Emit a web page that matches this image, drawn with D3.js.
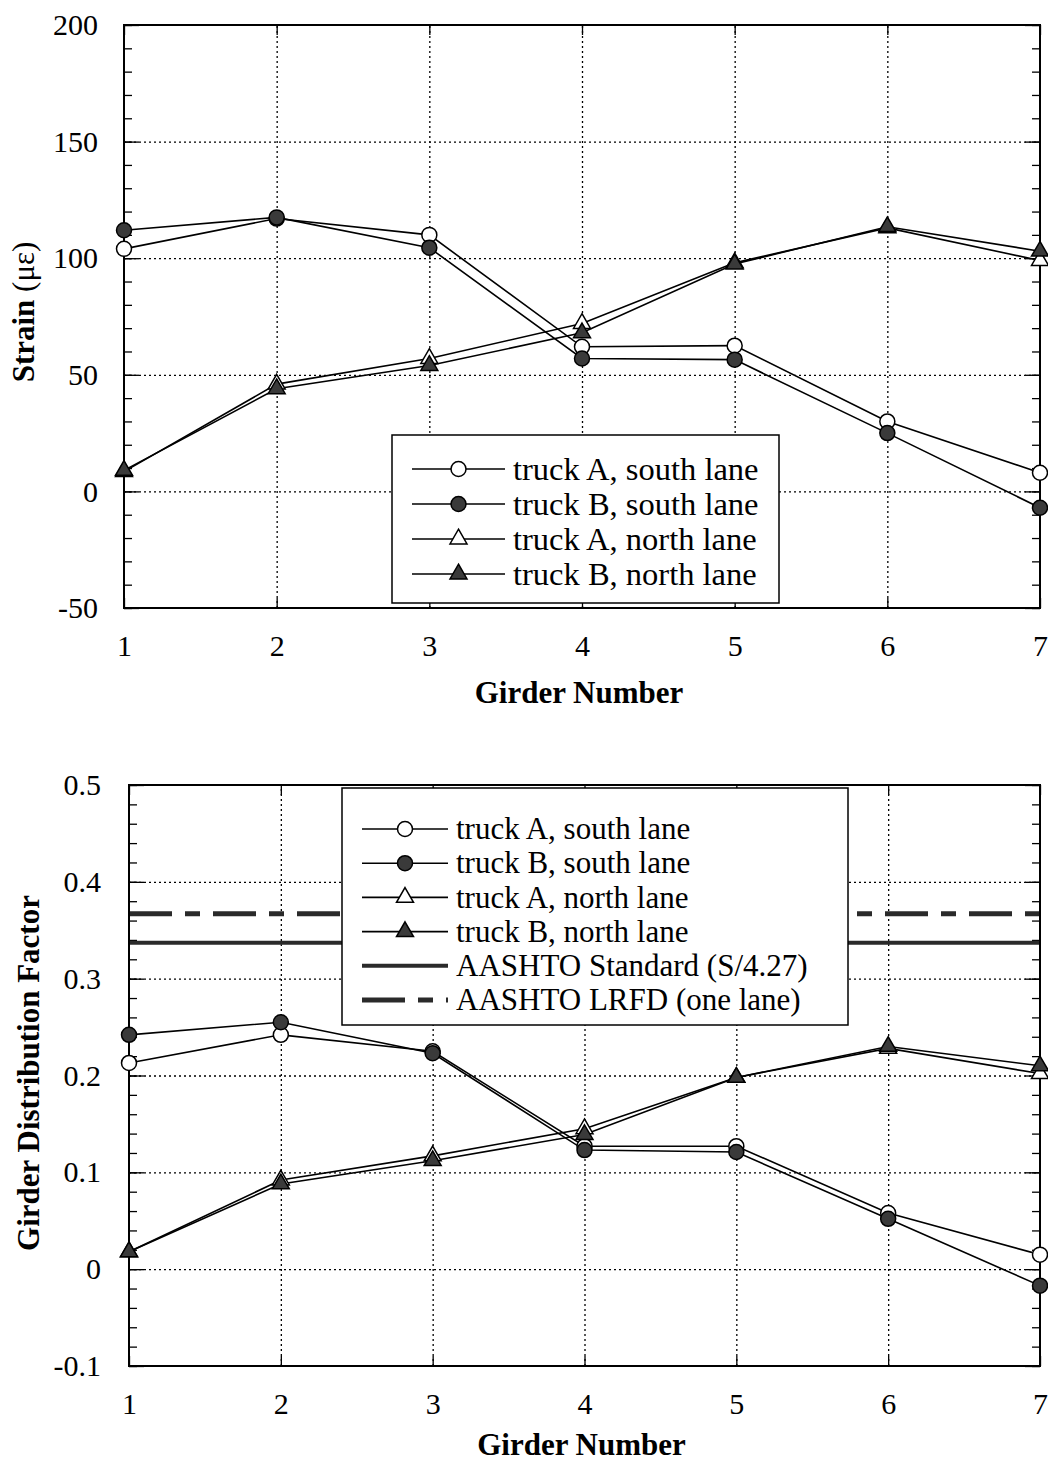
<!DOCTYPE html>
<html>
<head>
<meta charset="utf-8">
<script src="https://cdn.jsdelivr.net/npm/d3@7"></script>
<style>
body { margin: 0; background: #fff; }
svg { display: block; font-family: "Liberation Serif", "Times New Roman", serif; }
.grid line { stroke: #000; stroke-width: 1.3; stroke-dasharray: 2,3; }
.grid .domain { display: none; }
.ticks .domain { display: none; }
.ticks line { stroke: #000; stroke-width: 1.3; }
.ticks text { font-family: "Liberation Serif", "Times New Roman", serif; fill: #000; }
</style>
</head>
<body>
<svg id="chart" width="1048" height="1464"></svg>
<script>
'use strict'

// girder numbers along x
const girders = [1, 2, 3, 4, 5, 6, 7]
const seriesNames = ['truck A, south lane', 'truck B, south lane', 'truck A, north lane', 'truck B, north lane']

// top panel: strain (microstrain)
const strainASouth = [104, 117, 110, 62, 62.5, 30, 8]
const strainBSouth = [112, 117.5, 104.5, 57, 56.5, 25, -7]
const strainANorth = [8.5, 46, 57, 72, 98, 113, 99]
const strainBNorth = [9, 44, 54, 68, 97.5, 113.5, 103]
const strainTicks = [-50, 0, 50, 100, 150, 200]

// bottom panel: girder distribution factor
const gdfASouth = [0.213, 0.242, 0.225, 0.127, 0.127, 0.058, 0.015]
const gdfBSouth = [0.242, 0.255, 0.223, 0.123, 0.121, 0.052, -0.017]
const gdfANorth = [0.018, 0.092, 0.117, 0.145, 0.198, 0.228, 0.202]
const gdfBNorth = [0.018, 0.088, 0.112, 0.139, 0.198, 0.230, 0.210]
const gdfTicks = [-0.1, 0, 0.1, 0.2, 0.3, 0.4, 0.5]
const aashtoStandard = 0.337
const aashtoLrfd = 0.367
const refNames = ['AASHTO Standard (S/4.27)', 'AASHTO LRFD (one lane)']

const svg = d3.select('#chart')
const markerFill = ['#fff', '#3a3a3a', '#fff', '#3a3a3a']
const markerShape = ['circle', 'circle', 'triangle', 'triangle']
const lrfdDash = '43,13,15,13'

// plain hyphen for negatives, like the original
const hyphen = (f) => (d) => f(d).replace('\u2212', '-')

const drawMarker = (g, shape, fill, cx, cy) => {
	if (shape === 'circle') {
		g.append('circle')
			.attr('cx', cx).attr('cy', cy).attr('r', 7.5)
			.attr('fill', fill).attr('stroke', '#000').attr('stroke-width', 1.5)
	} else {
		g.append('path')
			.attr('d', d3.symbol(d3.symbolTriangle).size(125)())
			.attr('transform', `translate(${cx},${cy})`)
			.attr('fill', fill).attr('stroke', '#000').attr('stroke-width', 1.5)
	}
}

const drawPanel = (opt) => {
	const g = svg.append('g')
	const x = d3.scaleLinear().domain([1, 7]).range([opt.left, opt.right])
	const y = d3.scaleLinear().domain(d3.extent(opt.ticks)).range([opt.bottom, opt.top])
	const w = opt.right - opt.left

	// dotted grid
	g.append('g').attr('class', 'grid')
		.attr('transform', `translate(${opt.left},0)`)
		.call(d3.axisLeft(y).tickValues(opt.ticks.slice(1, -1)).tickSize(-w).tickFormat(''))
	g.append('g').attr('class', 'grid')
		.attr('transform', `translate(0,${opt.bottom})`)
		.call(d3.axisBottom(x).tickValues(girders.slice(1, -1)).tickSize(-(opt.bottom - opt.top)).tickFormat(''))

	// minor ticks, inward
	const step = opt.ticks[1] - opt.ticks[0]
	const minor = d3.range(opt.ticks[0], opt.ticks[opt.ticks.length - 1] + step / 10, step / 5)
	g.append('g').attr('class', 'ticks')
		.attr('transform', `translate(${opt.left},0)`)
		.call(d3.axisLeft(y).tickValues(minor).tickSize(-8).tickFormat(''))
	g.append('g').attr('class', 'ticks')
		.attr('transform', `translate(${opt.right},0)`)
		.call(d3.axisRight(y).tickValues(minor).tickSize(-8).tickFormat(''))

	// major ticks + labels
	g.append('g').attr('class', 'ticks')
		.attr('transform', `translate(${opt.left},0)`)
		.call(d3.axisLeft(y).tickValues(opt.ticks).tickSize(-15).tickPadding(opt.yPad).tickFormat(hyphen(opt.format)))
		.attr('font-size', 30)
	g.append('g').attr('class', 'ticks')
		.attr('transform', `translate(${opt.right},0)`)
		.call(d3.axisRight(y).tickValues(opt.ticks).tickSize(-15).tickFormat(''))
	g.append('g').attr('class', 'ticks')
		.attr('transform', `translate(0,${opt.bottom})`)
		.call(d3.axisBottom(x).tickValues(girders).tickSize(-10).tickPadding(27).tickFormat(d3.format('d')))
		.attr('font-size', 30)
	g.append('g').attr('class', 'ticks')
		.attr('transform', `translate(0,${opt.top})`)
		.call(d3.axisTop(x).tickValues(girders).tickSize(-10).tickFormat(''))

	// reference lines
	if (opt.refs) {
		g.append('line')
			.attr('x1', opt.left).attr('x2', opt.right)
			.attr('y1', y(opt.refs[1])).attr('y2', y(opt.refs[1]))
			.attr('stroke', '#2a2a2a').attr('stroke-width', 5).attr('stroke-dasharray', lrfdDash)
		g.append('line')
			.attr('x1', opt.left).attr('x2', opt.right)
			.attr('y1', y(opt.refs[0])).attr('y2', y(opt.refs[0]))
			.attr('stroke', '#2a2a2a').attr('stroke-width', 4)
	}

	// frame
	g.append('rect')
		.attr('x', opt.left).attr('y', opt.top)
		.attr('width', w).attr('height', opt.bottom - opt.top)
		.attr('fill', 'none').attr('stroke', '#000').attr('stroke-width', 2)

	// series
	const line = d3.line().x((d, i) => x(girders[i])).y(d => y(d))
	opt.series.forEach((s) => {
		g.append('path').attr('d', line(s))
			.attr('fill', 'none').attr('stroke', '#000').attr('stroke-width', 1.6)
	})
	opt.series.forEach((s, k) => {
		s.forEach((v, i) => drawMarker(g, markerShape[k], markerFill[k], x(girders[i]), y(v)))
	})

	// legend
	const lg = opt.legend
	const names = opt.refs ? seriesNames.concat(refNames) : seriesNames
	const leg = g.append('g')
	leg.append('rect')
		.attr('x', lg.x).attr('y', lg.y).attr('width', lg.w).attr('height', lg.h)
		.attr('fill', '#fff').attr('stroke', '#000').attr('stroke-width', 1.5)
	names.forEach((name, i) => {
		const cy = lg.row0 + i * lg.gap
		if (i < 4) {
			leg.append('line')
				.attr('x1', lg.x1).attr('x2', lg.x2).attr('y1', cy).attr('y2', cy)
				.attr('stroke', '#000').attr('stroke-width', 1.6)
			drawMarker(leg, markerShape[i], markerFill[i], (lg.x1 + lg.x2) / 2, cy)
		} else {
			leg.append('line')
				.attr('x1', lg.x1).attr('x2', lg.x2).attr('y1', cy).attr('y2', cy)
				.attr('stroke', '#2a2a2a').attr('stroke-width', i === 4 ? 4 : 5)
				.attr('stroke-dasharray', i === 4 ? null : lrfdDash)
		}
		leg.append('text')
			.attr('x', lg.x2 + 8).attr('y', cy).attr('dy', '0.33em')
			.attr('font-size', lg.font).text(name)
	})

	// axis titles
	g.append('text')
		.attr('x', (opt.left + opt.right) / 2 - 3).attr('y', opt.xTitleY)
		.attr('text-anchor', 'middle').attr('font-size', 31).attr('font-weight', 'bold')
		.text('Girder Number')
	const yt = g.append('text')
		.attr('transform', `translate(${opt.yTitleX},${opt.yTitleY}) rotate(-90)`)
		.attr('text-anchor', 'middle').attr('font-size', 31)
	opt.yTitle.forEach((part) => {
		yt.append('tspan').attr('font-weight', part.bold ? 'bold' : 'normal').text(part.text)
	})
}

drawPanel({
	left: 124, right: 1040, top: 25, bottom: 608,
	ticks: strainTicks, format: d3.format('d'), yPad: 26,
	series: [strainASouth, strainBSouth, strainANorth, strainBNorth],
	legend: { x: 392, y: 435, w: 387, h: 168, x1: 412, x2: 505, row0: 469, gap: 35, font: 32.5 },
	xTitleY: 703, yTitleX: 34, yTitleY: 312,
	yTitle: [{ text: 'Strain ', bold: true }, { text: '(με)', bold: false }]
})

drawPanel({
	left: 129, right: 1040, top: 785, bottom: 1366,
	ticks: gdfTicks, format: d3.format('.1~f'), yPad: 28,
	refs: [aashtoStandard, aashtoLrfd],
	series: [gdfASouth, gdfBSouth, gdfANorth, gdfBNorth],
	legend: { x: 342, y: 788, w: 506, h: 237, x1: 362, x2: 448, row0: 829, gap: 34.2, font: 31 },
	xTitleY: 1455, yTitleX: 39, yTitleY: 1073,
	yTitle: [{ text: 'Girder Distribution Factor', bold: true }]
})
</script>
</body>
</html>
